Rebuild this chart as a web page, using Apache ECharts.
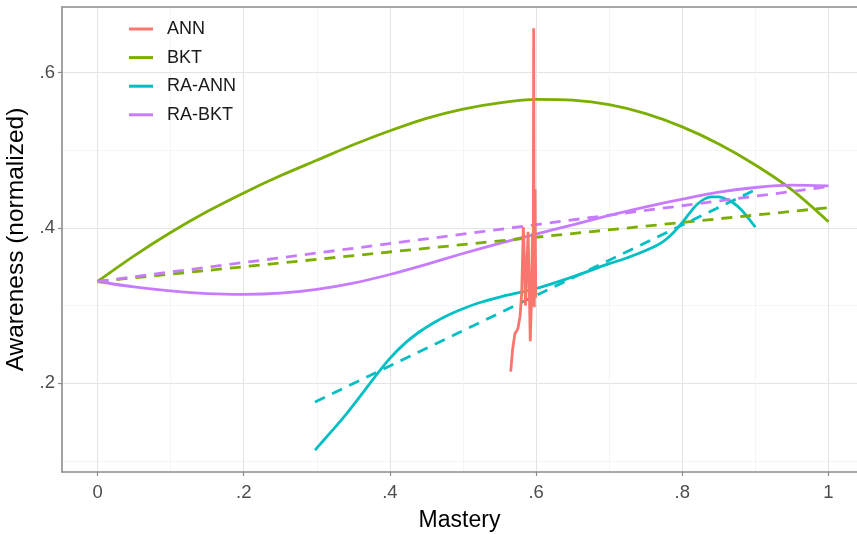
<!DOCTYPE html>
<html><head><meta charset="utf-8">
<script src="https://cdn.jsdelivr.net/npm/echarts@6/dist/echarts.min.js"></script>
<style>html,body{margin:0;padding:0;background:#fff}#c{width:857px;height:534px}</style>
</head><body><div id="c"></div>
<script>
// ---- data ----
const legendNames = ['ANN', 'BKT', 'RA-ANN', 'RA-BKT'];

const annX = [0.5652, 0.5680, 0.5711, 0.5750, 0.5780, 0.5803, 0.5825, 0.5840, 0.5855, 0.5870, 0.5890, 0.5905, 0.5920, 0.5935, 0.5950, 0.5960, 0.5967, 0.5975, 0.5985, 0.5995];
const annY = [0.215, 0.245, 0.264, 0.270, 0.286, 0.316, 0.401, 0.360, 0.300, 0.338, 0.395, 0.330, 0.254, 0.300, 0.393, 0.300, 0.657, 0.298, 0.450, 0.310];

const bktX = [0, 0.05, 0.1, 0.15, 0.2, 0.25, 0.3, 0.35, 0.4, 0.45, 0.5, 0.55, 0.6, 0.65, 0.7, 0.75, 0.8, 0.85, 0.9, 0.95, 1.0];
const bktY = [0.331, 0.364, 0.394, 0.421, 0.445, 0.467, 0.487, 0.507, 0.525, 0.541, 0.553, 0.561, 0.5655, 0.5645, 0.5585, 0.547, 0.530, 0.508, 0.481, 0.449, 0.408];

const raAnnX = [0.2975, 0.32, 0.34, 0.36, 0.38, 0.40, 0.42, 0.44, 0.46, 0.48, 0.50, 0.52, 0.55, 0.60, 0.65, 0.70, 0.72, 0.74, 0.76, 0.77, 0.78, 0.79, 0.80, 0.81, 0.82, 0.83, 0.84, 0.85, 0.86, 0.87, 0.88, 0.89, 0.90];
const raAnnY = [0.114, 0.138, 0.160, 0.184, 0.209, 0.232, 0.251, 0.266, 0.278, 0.288, 0.296, 0.303, 0.311, 0.322, 0.337, 0.354, 0.360, 0.367, 0.375, 0.380, 0.387, 0.396, 0.407, 0.419, 0.430, 0.437, 0.440, 0.440, 0.437, 0.432, 0.424, 0.413, 0.401];

const raBktX = [0, 0.05, 0.1, 0.15, 0.2, 0.25, 0.3, 0.35, 0.4, 0.45, 0.5, 0.55, 0.6, 0.65, 0.7, 0.75, 0.8, 0.85, 0.9, 0.95, 1.0];
const raBktY = [0.331, 0.324, 0.319, 0.3155, 0.3145, 0.316, 0.321, 0.329, 0.340, 0.353, 0.367, 0.380, 0.392, 0.404, 0.416, 0.427, 0.437, 0.446, 0.452, 0.455, 0.454];

// linear fits (dashed)
const bktFitX = [0, 1];
const bktFitY = [0.331, 0.426];
const raAnnFitX = [0.2975, 0.902];
const raAnnFitY = [0.176, 0.450];
const raBktFitX = [0, 1];
const raBktFitY = [0.331, 0.453];

const xTicks = [0, 0.2, 0.4, 0.6, 0.8, 1];
const xMinor = [0.1, 0.3, 0.5, 0.7, 0.9];
const yTicks = [0.2, 0.4, 0.6];
const yMinor = [0.1, 0.3, 0.5];

// ---- styling ----
const colors = {'ANN': '#F8766D', 'BKT': '#7CAE00', 'RA-ANN': '#00BFC4', 'RA-BKT': '#C77CFF'};
const FONT = '"Liberation Sans", Arial, sans-serif';
const axisGray = '#8c8c8c';
const X_MIN = -0.0486, X_MAX = 1.039, Y_MIN = 0.0858, Y_MAX = 0.6843;
const fmt = v => { const s = String(Math.round(v * 10) / 10); return s.replace(/^0\./, '.'); };
const zip = (xs, ys) => xs.map((x, i) => [x, ys[i]]);

function lineSeries(name, xs, ys, color, dashed, smooth) {
  return {
    name: name, type: 'line', xAxisIndex: 0, yAxisIndex: 0,
    data: zip(xs, ys), showSymbol: false, symbol: 'none', smooth: smooth || false,
    lineStyle: {color: color, width: 2.8, type: dashed ? [11, 8] : 'solid', cap: 'butt'},
    itemStyle: {color: color}, emphasis: {disabled: true}, animation: false
  };
}

const chart = echarts.init(document.getElementById('c'), null, {renderer: 'canvas'});
chart.setOption({
  backgroundColor: '#ffffff',
  animation: false,
  grid: {left: 62, right: 0, top: 7, bottom: 62, containLabel: false, outerBoundsMode: 'none'},
  legend: {
    data: legendNames, orient: 'vertical', left: 129, top: 20, padding: 0,
    icon: 'rect', itemWidth: 24, itemHeight: 3, itemGap: 10.6,
    textStyle: {fontFamily: FONT, fontSize: 18, color: '#1a1a1a', padding: [0, 0, 0, 9]},
    selectedMode: false
  },
  xAxis: [{
    type: 'value', position: 'bottom', min: X_MIN, max: X_MAX,
    name: 'Mastery', nameLocation: 'middle', nameGap: 37,
    nameTextStyle: {fontFamily: FONT, fontSize: 23, color: '#000'},
    axisLine: {show: true, onZero: false, lineStyle: {color: axisGray, width: 1.6}},
    axisTick: {show: true, length: 4, customValues: xTicks, lineStyle: {color: axisGray, width: 1.2}},
    axisLabel: {customValues: xTicks, formatter: v => fmt(v), fontFamily: FONT, fontSize: 18.5, color: '#4d4d4d', margin: 11},
    splitLine: {show: true, lineStyle: {color: '#e4e4e4', width: 1.1}}
  }, {
    type: 'value', position: 'top', min: X_MIN, max: X_MAX,
    axisLine: {show: true, onZero: false, lineStyle: {color: axisGray, width: 1.6}},
    axisTick: {show: false, customValues: xMinor},
    axisLabel: {show: false, customValues: xMinor},
    splitLine: {show: true, lineStyle: {color: '#f2f2f2', width: 0.8}}
  }],
  yAxis: [{
    type: 'value', position: 'left', min: Y_MIN, max: Y_MAX,
    name: 'Awareness (normalized)', nameLocation: 'middle', nameGap: 33,
    nameTextStyle: {fontFamily: FONT, fontSize: 24.5, color: '#000'},
    axisLine: {show: true, onZero: false, lineStyle: {color: axisGray, width: 1.6}},
    axisTick: {show: true, length: 4, customValues: yTicks, lineStyle: {color: axisGray, width: 1.2}},
    axisLabel: {customValues: yTicks, formatter: v => fmt(v), fontFamily: FONT, fontSize: 18.5, color: '#4d4d4d', margin: 7},
    splitLine: {show: true, lineStyle: {color: '#e4e4e4', width: 1.1}}
  }, {
    type: 'value', position: 'right', min: Y_MIN, max: Y_MAX,
    axisLine: {show: false},
    axisTick: {show: false, customValues: yMinor},
    axisLabel: {show: false, customValues: yMinor},
    splitLine: {show: true, lineStyle: {color: '#f2f2f2', width: 0.8}}
  }],
  series: [
    lineSeries('BKT', bktX, bktY, colors['BKT'], false, 0.3),
    lineSeries('RA-BKT', raBktX, raBktY, colors['RA-BKT'], false, 0.3),
    lineSeries('RA-ANN', raAnnX, raAnnY, colors['RA-ANN'], false, 0.3),
    lineSeries('BKT fit', bktFitX, bktFitY, colors['BKT'], true),
    lineSeries('RA-BKT fit', raBktFitX, raBktFitY, colors['RA-BKT'], true),
    lineSeries('RA-ANN fit', raAnnFitX, raAnnFitY, colors['RA-ANN'], true),
    lineSeries('ANN', annX, annY, colors['ANN'], false, false)
  ]
});
</script></body></html>
